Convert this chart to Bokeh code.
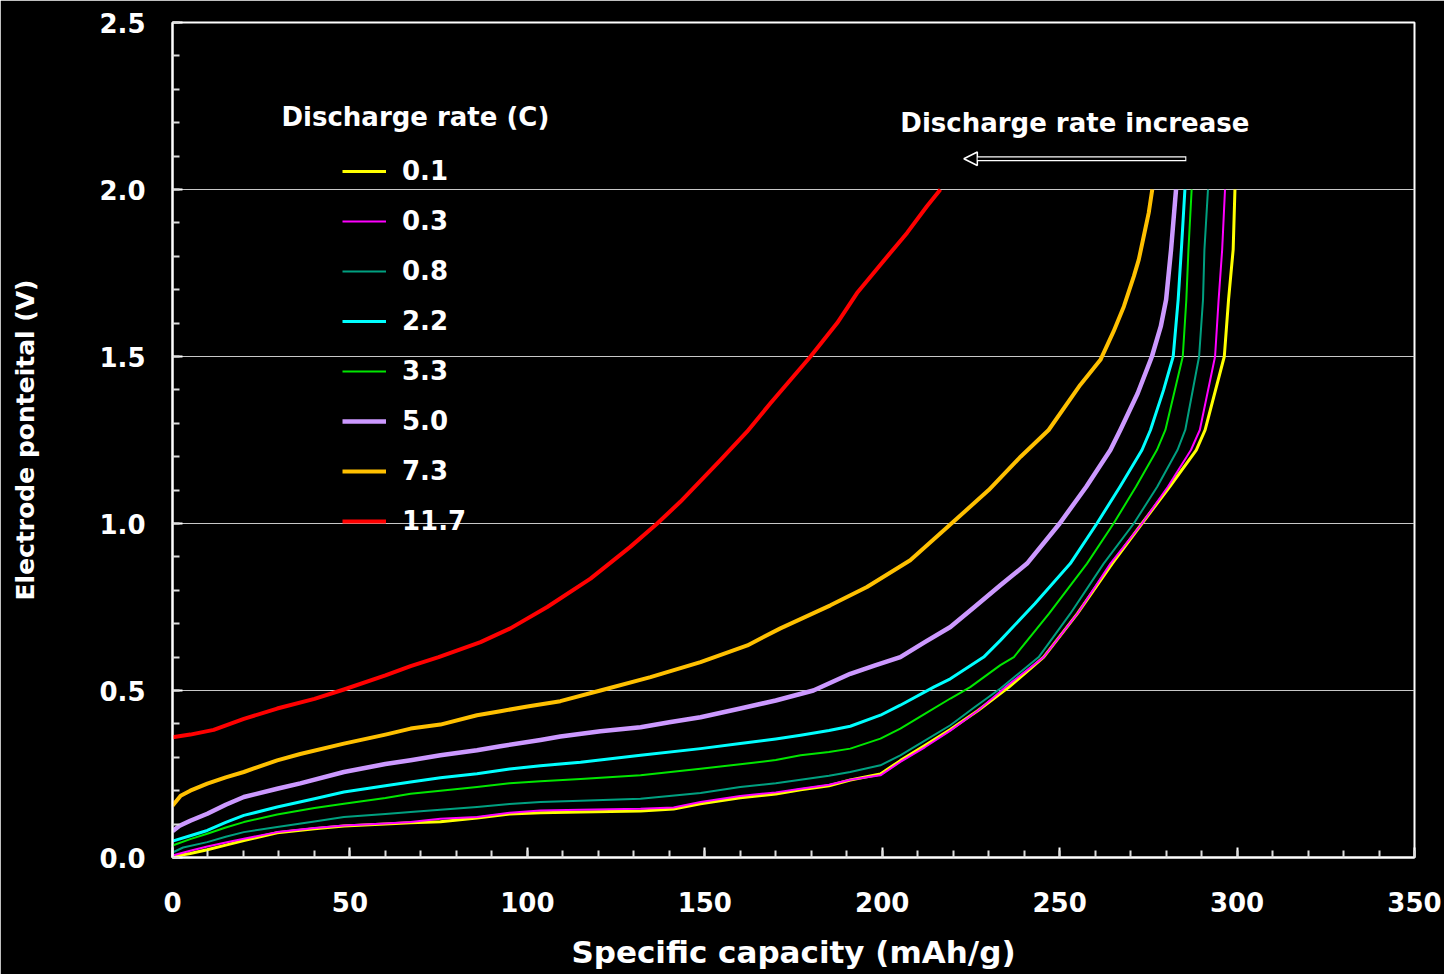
from bokeh.plotting import figure
from bokeh.models import Range1d, FixedTicker, NumeralTickFormatter, Label, Arrow, NormalHead
from bokeh.embed import file_html
from bokeh.resources import INLINE

# ---------------- data ----------------
rate_labels = ["0.1", "0.3", "0.8", "2.2", "3.3", "5.0", "7.3", "11.7"]

cap_01 = [0, 5, 9.8, 15, 20.1, 29.5, 40, 48.3, 60, 67.1, 75.5, 85.8, 95, 103.7, 115, 131.9, 141.2, 148.8,
          160, 170, 177, 185, 191, 199.5, 205.1, 212, 219.2, 227, 235.7, 245.5, 255, 264.8, 273.2, 281,
          288.5, 291.0, 296.4, 297.6, 298.9, 299.4]
pot_01 = [0.003, 0.012, 0.023, 0.037, 0.051, 0.074, 0.086, 0.094, 0.1, 0.104, 0.107, 0.118, 0.13, 0.134,
          0.136, 0.139, 0.145, 0.161, 0.179, 0.19, 0.203, 0.215, 0.232, 0.25, 0.29, 0.335, 0.383, 0.44,
          0.51, 0.6, 0.73, 0.88, 1.0, 1.11, 1.22, 1.28, 1.5, 1.67, 1.82, 2.0]

cap_03 = [0, 5, 9.8, 15, 20.1, 29.5, 40, 48.3, 60, 67.1, 75.5, 85.8, 95, 103.7, 115, 131.9, 141.2, 148.8,
          160, 170, 177, 185, 191, 199.5, 205.1, 212, 219.2, 227, 234.7, 245.5, 255, 264.3, 273.2, 280.5,
          287, 289.5, 293.8, 294.8, 295.8, 296.6]
pot_03 = [0.006, 0.02, 0.033, 0.045, 0.056, 0.076, 0.088, 0.096, 0.102, 0.106, 0.116, 0.121, 0.134, 0.141,
          0.143, 0.146, 0.15, 0.166, 0.184, 0.195, 0.206, 0.218, 0.233, 0.246, 0.286, 0.33, 0.38, 0.44,
          0.51, 0.6, 0.73, 0.88, 1.0, 1.11, 1.22, 1.28, 1.5, 1.67, 1.82, 2.0]

cap_08 = [0, 3, 9.8, 15, 20.1, 29.5, 40, 48.3, 60, 67.1, 75.5, 85.8, 95, 103.7, 115, 131.9, 148.8, 160,
          170, 177, 185, 191, 199.5, 205.1, 212, 219.2, 226, 233.3, 244.1, 253, 262.4, 270.9, 277.5, 283.2,
          285.4, 289.3, 290.4, 290.8, 291.8]
pot_08 = [0.015, 0.03, 0.046, 0.062, 0.076, 0.091, 0.108, 0.121, 0.13, 0.136, 0.143, 0.151, 0.16, 0.166,
          0.17, 0.176, 0.193, 0.211, 0.222, 0.233, 0.245, 0.256, 0.276, 0.306, 0.35, 0.396, 0.45, 0.506,
          0.6, 0.73, 0.88, 1.0, 1.11, 1.22, 1.28, 1.5, 1.67, 1.82, 2.0]

cap_22 = [0, 5, 9.8, 15, 20.1, 29.5, 40, 48.3, 60, 67.1, 75.5, 85.8, 95, 103.7, 115, 131.9, 148.8, 160,
          170, 177, 185, 191, 199.5, 205.1, 214.5, 219.2, 228.6, 233.3, 243, 253, 260.5, 267, 273.2, 275.6,
          279.3, 282, 283.4, 284.3, 285.3]
pot_22 = [0.049, 0.065, 0.081, 0.105, 0.126, 0.151, 0.176, 0.196, 0.215, 0.226, 0.239, 0.251, 0.265, 0.275,
          0.285, 0.306, 0.326, 0.341, 0.355, 0.366, 0.38, 0.393, 0.426, 0.456, 0.51, 0.535, 0.6, 0.65,
          0.76, 0.88, 1.0, 1.11, 1.22, 1.28, 1.4, 1.5, 1.67, 1.82, 2.0]

cap_33 = [0, 5, 9.8, 15, 20.1, 29.5, 40, 48.3, 60, 67.1, 75.5, 85.8, 95, 103.7, 115, 131.9, 148.8, 160,
          170, 177, 185, 191, 199.5, 205.1, 212, 219.2, 224.8, 233.3, 237.1, 247, 257.7, 265.2, 271.5, 277.4,
          279.8, 284.7, 285.7, 286.3, 287.2]
pot_33 = [0.036, 0.055, 0.071, 0.09, 0.106, 0.129, 0.148, 0.161, 0.178, 0.191, 0.2, 0.211, 0.222, 0.228,
          0.235, 0.246, 0.266, 0.279, 0.292, 0.306, 0.316, 0.326, 0.356, 0.386, 0.43, 0.476, 0.51, 0.576,
          0.6, 0.73, 0.88, 1.0, 1.11, 1.22, 1.28, 1.5, 1.67, 1.82, 2.0]

cap_50 = [0, 2, 5, 9.8, 15, 20.1, 29.5, 36, 48.3, 60, 67.1, 75.5, 85.8, 92.4, 103.7, 109.3, 120.6, 131.9,
          140, 148.8, 160, 170, 180.6, 191, 198, 205.1, 212, 219.2, 226, 233.3, 240.8, 250, 257.5, 264.3,
          267.1, 272.0, 276.0, 278.5, 280.0, 281.4, 282.8]
pot_50 = [0.079, 0.095, 0.11, 0.131, 0.158, 0.181, 0.206, 0.222, 0.256, 0.28, 0.291, 0.306, 0.321, 0.333,
          0.352, 0.362, 0.378, 0.39, 0.405, 0.42, 0.446, 0.47, 0.5, 0.55, 0.575, 0.6, 0.645, 0.69, 0.75,
          0.815, 0.88, 1.0, 1.11, 1.22, 1.28, 1.39, 1.5, 1.59, 1.67, 1.82, 2.0]

cap_73 = [0, 2.3, 5, 9.8, 15, 20.1, 29.5, 36, 48.3, 60, 67.1, 75.5, 85.8, 92.4, 100, 109.3, 120.6, 134.7,
          148.8, 162, 171.3, 185.4, 195.7, 207.9, 219.5, 230, 239, 246.9, 255.8, 261.5, 265.2, 268.1,
          270.9, 272.3, 273.7, 275.1, 276.1]
pot_73 = [0.155, 0.185, 0.2, 0.221, 0.24, 0.256, 0.291, 0.31, 0.341, 0.368, 0.386, 0.398, 0.426, 0.438,
          0.452, 0.468, 0.5, 0.54, 0.585, 0.635, 0.686, 0.755, 0.81, 0.89, 1.0, 1.1, 1.2, 1.28, 1.415,
          1.49, 1.575, 1.65, 1.74, 1.79, 1.86, 1.93, 2.0]

cap_117 = [0, 5, 11.6, 20.1, 29.5, 40, 48.3, 60, 67.1, 75, 86.8, 95.2, 105.6, 117.8, 129.0, 136.6, 143.1,
           154.4, 161.9, 168.5, 179.8, 187.3, 192.9, 199.5, 207.0, 212.6, 216.4]
pot_117 = [0.36, 0.368, 0.382, 0.415, 0.446, 0.475, 0.503, 0.545, 0.573, 0.6, 0.645, 0.686, 0.75, 0.835,
           0.93, 1.0, 1.065, 1.19, 1.275, 1.36, 1.5, 1.6, 1.69, 1.775, 1.87, 1.95, 2.0]

capacities = [cap_01, cap_03, cap_08, cap_22, cap_33, cap_50, cap_73, cap_117]
potentials = [pot_01, pot_03, pot_08, pot_22, pot_33, pot_50, pot_73, pot_117]

x_ticks = [0, 50, 100, 150, 200, 250, 300, 350]
y_ticks = [0.0, 0.5, 1.0, 1.5, 2.0, 2.5]

# ---------------- styles ----------------
colors = ["#FFFF00", "#FF00FF", "#00A080", "#00FFFF", "#00E600", "#CC99FF", "#FFC000", "#FF0000"]
widths = [3, 2, 2, 3, 2, 4.5, 4, 4]
FONT = "DejaVu Sans"

p = figure(width=1444, height=974, output_backend="svg", toolbar_location=None,
           x_range=Range1d(0, 350), y_range=Range1d(0, 2.5),
           min_border_left=172, min_border_right=30, min_border_top=22, min_border_bottom=117)
p.background_fill_color = "black"
p.border_fill_color = "black"
p.outline_line_color = "white"
p.outline_line_width = 2

for xs, ys, lab, c, w in zip(capacities, potentials, rate_labels, colors, widths):
    p.line(xs, ys, line_color=c, line_width=w, legend_label=lab, line_join="round")

# axes
p.xaxis.ticker = FixedTicker(ticks=x_ticks, minor_ticks=list(range(0, 351, 10)))
p.yaxis.ticker = FixedTicker(ticks=y_ticks, minor_ticks=[i / 10 for i in range(0, 26)])
p.yaxis.formatter = NumeralTickFormatter(format="0.0")
for ax in (p.xaxis[0], p.yaxis[0]):
    ax.axis_line_color = "white"
    ax.axis_line_width = 2
    ax.major_tick_in = 10
    ax.major_tick_out = 0
    ax.minor_tick_in = 7
    ax.minor_tick_out = 0
    ax.major_tick_line_color = "white"
    ax.major_tick_line_width = 2
    ax.minor_tick_line_color = "#DDDDDD"
    ax.minor_tick_line_width = 2
    ax.major_label_text_color = "white"
    ax.major_label_text_font = FONT
    ax.major_label_text_font_style = "bold"
    ax.major_label_text_font_size = "26px"
    ax.axis_label_text_color = "white"
    ax.axis_label_text_font = FONT
    ax.axis_label_text_font_style = "bold"

p.xaxis.axis_label = "Specific capacity (mAh/g)"
p.xaxis.axis_label_text_font_size = "31px"
p.xaxis.major_label_standoff = 34
p.xaxis.axis_label_standoff = 19
p.yaxis.axis_label = "Electrode ponteital (V)"
p.yaxis.axis_label_text_font_size = "25px"
p.yaxis.major_label_standoff = 27
p.yaxis.axis_label_standoff = 56

# grid
p.xgrid.visible = False
p.ygrid.ticker = FixedTicker(ticks=[0.5, 1.0, 1.5, 2.0])
p.ygrid.grid_line_color = "#C8C8C8"
p.ygrid.grid_line_width = 1

# legend
lg = p.legend[0]
lg.location = (170, 321)
lg.padding = 0
lg.margin = 0
lg.border_line_color = None
lg.background_fill_alpha = 0
lg.glyph_width = 44
lg.glyph_height = 30
lg.label_height = 30
lg.spacing = 20
lg.label_standoff = 16
lg.label_text_color = "white"
lg.label_text_font = FONT
lg.label_text_font_style = "bold"
lg.label_text_font_size = "26px"

p.add_layout(Label(x=30.7, y=2.216, text="Discharge rate (C)", text_color="white",
                   text_font=FONT, text_font_style="bold", text_font_size="26px",
                   text_baseline="alphabetic", text_align="left"))
p.add_layout(Label(x=205.1, y=2.199, text="Discharge rate increase", text_color="white",
                   text_font=FONT, text_font_style="bold", text_font_size="26px",
                   text_baseline="alphabetic", text_align="left"))

# hollow arrow
p.add_layout(Arrow(x_start=285.7, y_start=2.092, x_end=223.0, y_end=2.092,
                   line_color="white", line_width=5,
                   end=NormalHead(size=13.5, fill_color="black", line_color="white", line_width=1.5)))
p.add_layout(Arrow(x_start=285.4, y_start=2.092, x_end=226.9, y_end=2.092,
                   line_color="black", line_width=2.5, end=None))

html = file_html(p, INLINE)
html = html.replace("<body>", '<body style="background:#000000">', 1)
open("out.html", "w").write(html)
